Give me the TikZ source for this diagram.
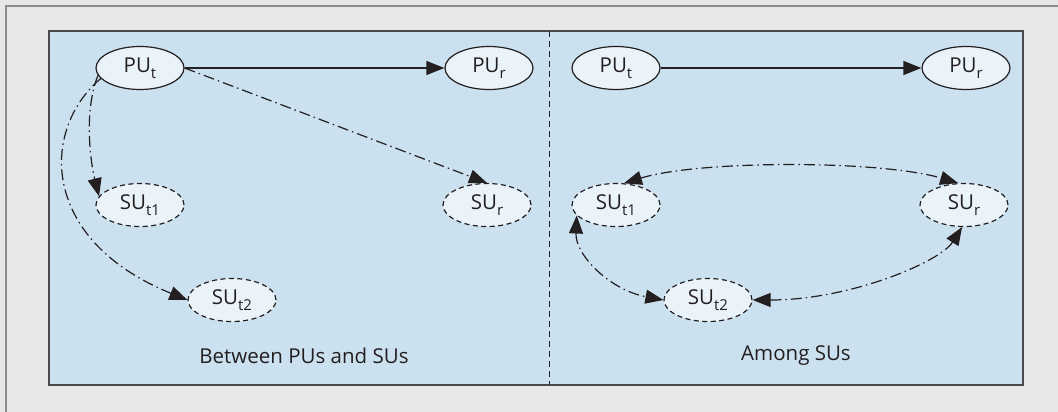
\documentclass[tikz,border=0pt]{standalone}
\usepackage{fontspec}
\setmainfont{Open Sans}
\usetikzlibrary{arrows.meta,shapes.geometric}
\definecolor{bggray}{HTML}{E6E7E8}
\definecolor{panelblue}{HTML}{CCE1EF}
\definecolor{nodefill}{HTML}{EAF3FA}
\definecolor{framegray}{HTML}{8C8C8E}
\definecolor{paneledge}{HTML}{4A4A4C}
\definecolor{inkc}{HTML}{231F20}
\newcommand\lowsub[1]{\raisebox{-0.3em}{\fontsize{15}{15}\selectfont #1}}
\tikzset{
  >={Triangle[length=18pt,width=14pt]},
  unit/.style={ellipse, minimum width=88pt, minimum height=43pt, inner sep=0pt,
    fill=nodefill, draw=inkc, line width=1.2pt, font=\fontsize{20.5}{24}\selectfont, text=inkc},
  pu/.style={unit},
  su/.style={unit, dash pattern=on 5pt off 3.5pt},
  lbl/.style={font=\fontsize{20.5}{24}\selectfont, text=inkc},
  solidconn/.style={draw=inkc, line width=1.2pt, ->},
  dashdot/.style={draw=inkc, line width=1.2pt, dash pattern=on 11pt off 4pt on 1.5pt off 4pt},
}
\begin{document}
\begin{tikzpicture}[x=1pt,y=-1pt]
\useasboundingbox (0,0) rectangle (1058,412);
\fill[bggray] (0,0) rectangle (1058,412);
\draw[framegray, line width=2pt] (6,412) -- (6,6) -- (1058,6);
\draw[fill=panelblue, draw=paneledge, line width=1.8pt] (49,31) rectangle (1023,385);
\coordinate (divtop) at (549,31);
\coordinate (divbot) at (549,385);
\draw[inkc, line width=1pt, dash pattern=on 6pt off 4pt] (divtop) -- (divbot);

% left panel
\node[pu] (aput) at (140,68) {PU\lowsub{t}};
\node[pu] (apur) at (489,68) {PU\lowsub{r}};
\node[su] (asut1) at (140,205) {SU\lowsub{t1}};
\node[su] (asur) at (487,205) {SU\lowsub{r}};
\node[su] (asut2) at (232,300) {SU\lowsub{t2}};
\node[lbl] (alab) at (304,356) {Between PUs and SUs};

\draw[solidconn] (aput.east) -- (apur.west);
\draw[dashdot, ->] (aput.east) -- (asur.north);
\draw[dashdot, ->] (aput.190) .. controls (84,110) and (90,160) .. (asut1.168);
\draw[dashdot, ->] (aput.195) .. controls (40,130) and (40,240) .. (asut2.west);

% right panel
\node[pu] (bput) at (616,68) {PU\lowsub{t}};
\node[pu] (bpur) at (966,68) {PU\lowsub{r}};
\node[su] (bsut1) at (616,205) {SU\lowsub{t1}};
\node[su] (bsur) at (964,205) {SU\lowsub{r}};
\node[su] (bsut2) at (708,300) {SU\lowsub{t2}};
\node[lbl] (blab) at (796,356) {Among SUs};

\draw[solidconn] (bput.east) -- (bpur.west);
\draw[dashdot, <->] (bsut1.70) .. controls (700,160) and (880,160) .. (bsur.105);
\draw[dashdot, <->] (bsut1.195) .. controls (575,255) and (610,290) .. (bsut2.west);
\draw[dashdot, <->] (bsut2.east) .. controls (850,300) and (940,262) .. (bsur.265);
\end{tikzpicture}
\end{document}
